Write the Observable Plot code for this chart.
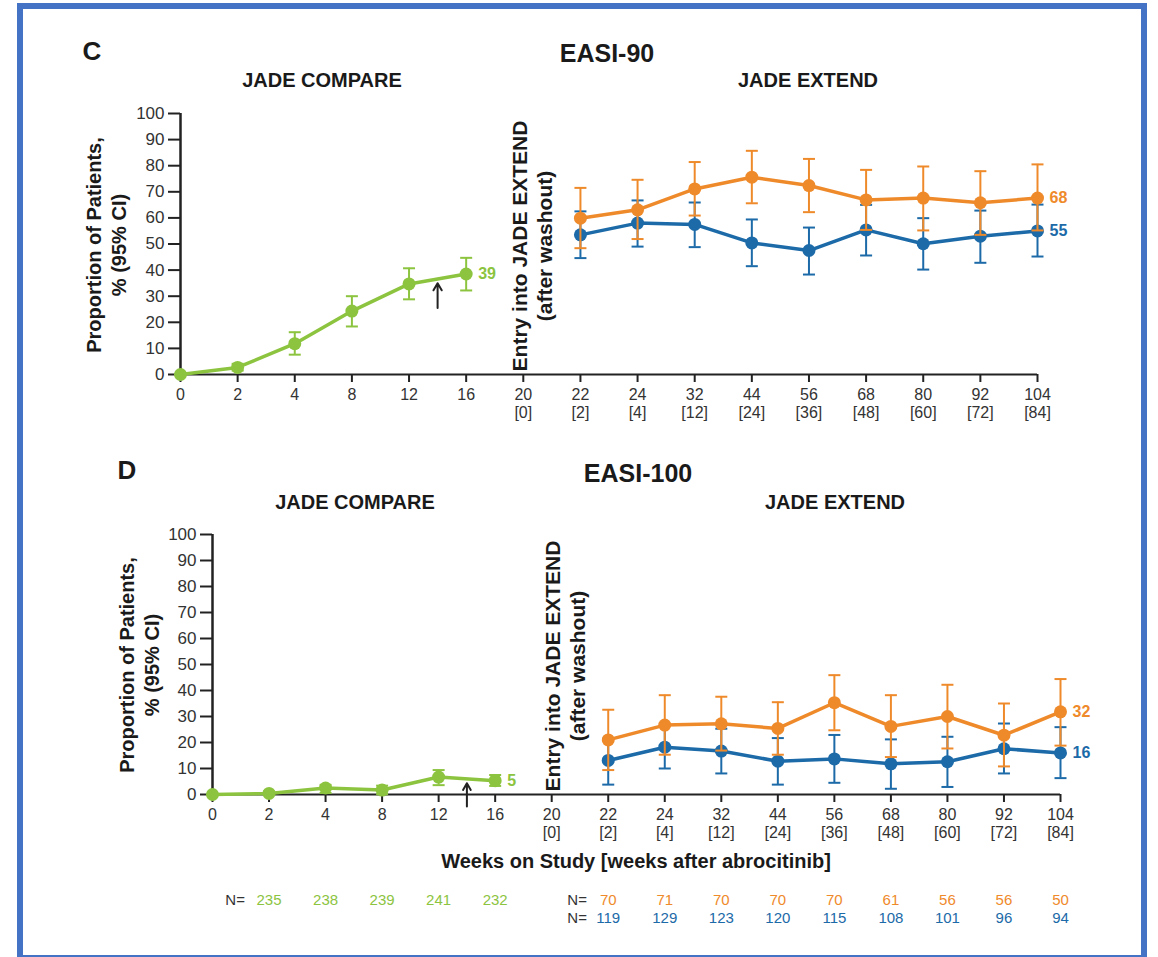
<!DOCTYPE html>
<html>
<head>
<meta charset="utf-8">
<script src="https://cdn.jsdelivr.net/npm/d3@7"></script>
<script src="https://cdn.jsdelivr.net/npm/@observablehq/plot@0.6"></script>
<style>
  html, body { margin: 0; padding: 0; overflow: hidden; background: #fff; }
  body { font-family: "Liberation Sans", Arial, sans-serif; }
  #page { position: relative; width: 1158px; height: 957px; overflow: hidden; background: #fff; }
  #frame { position: absolute; left: 17px; top: 3px; width: 1130px; height: 958px; border: 6px solid #4472C4; box-sizing: border-box; }
  .t { position: absolute; transform: translate(-50%, -50%); white-space: nowrap; color: #1a1a1a; font-weight: bold; }
  .rot { transform: translate(-50%, -50%) rotate(-90deg); text-align: center; line-height: 25px; }
  .plot { position: absolute; left: 0; }
</style>
</head>
<body>
<div id="page">
  <div id="frame"></div>
</div>
<script>
// ---------- data ----------
const weekLabels  = ["0","2","4","8","12","16","20","22","24","32","44","56","68","80","92","104"];
const afterLabels = [null,null,null,null,null,null,"0","2","4","12","24","36","48","60","72","84"];
const compareWeeks = ["0","2","4","8","12","16"];
const extendWeeks  = ["22","24","32","44","56","68","80","92","104"];
const nCompareWeeks = ["2","4","8","12","16"];
const entryWeek = 14;   // arrow: entry into JADE EXTEND

// EASI-90
const e90Compare   = [0, 2.7, 11.8, 24.3, 34.7, 38.5];
const e90CompareLo = [0, 1.5, 7.6, 18.4, 28.8, 32.2];
const e90CompareHi = [0, 4.1, 16.2, 30.0, 40.7, 44.7];
const e90Orange    = [59.9, 63.1, 71.1, 75.6, 72.4, 66.9, 67.6, 65.8, 67.6];
const e90OrangeLo  = [48.4, 51.9, 60.9, 65.6, 62.2, 55.4, 55.2, 53.5, 55.2];
const e90OrangeHi  = [71.5, 74.6, 81.4, 85.7, 82.6, 78.4, 79.7, 77.9, 80.5];
const e90Blue      = [53.5, 58.0, 57.5, 50.4, 47.5, 55.4, 50.1, 53.0, 55.0];
const e90BlueLo    = [44.6, 49.0, 48.8, 41.5, 38.3, 45.6, 40.2, 42.8, 45.2];
const e90BlueHi    = [62.5, 66.7, 65.9, 59.4, 56.3, 65.0, 59.9, 62.8, 65.1];
const e90EndLabels = ["39", "68", "55"];
const e90Arrow     = [25.5, 35];

// EASI-100
const e100Compare   = [0, 0.4, 2.5, 1.7, 6.7, 5.3];
const e100CompareLo = [0, 0, 0.6, 0.1, 3.6, 3.3];
const e100CompareHi = [0, 1.2, 3.7, 3.4, 9.4, 7.5];
const e100Orange    = [21.0, 26.7, 27.2, 25.4, 35.3, 26.2, 30.0, 22.8, 31.8];
const e100OrangeLo  = [9.4, 15.3, 16.9, 15.3, 24.7, 14.4, 17.7, 10.8, 18.8];
const e100OrangeHi  = [32.6, 38.2, 37.6, 35.5, 45.9, 38.2, 42.2, 35.0, 44.4];
const e100Blue      = [13.1, 18.2, 16.7, 12.8, 13.7, 11.8, 12.6, 17.6, 16.0];
const e100BlueLo    = [3.8, 10.0, 8.1, 3.8, 4.5, 2.2, 2.9, 8.1, 6.3];
const e100BlueHi    = [21.5, 26.5, 25.3, 21.7, 22.9, 21.2, 22.2, 27.3, 25.9];
const e100EndLabels = ["5", "32", "16"];
const e100Arrow     = [-4.6, 4.3];

// N at risk
const nCompare = [235, 238, 239, 241, 232];
const nOrange  = [70, 71, 70, 70, 70, 61, 56, 56, 50];
const nBlue    = [119, 129, 123, 120, 115, 108, 101, 96, 94];

// ---------- styling ----------
const GREEN = "#8CC43F", ORANGE = "#EF8A2B", BLUE = "#1C6AA8", INK = "#222";
const FONT = "'Liberation Sans', Arial, sans-serif";

const pos = w => weekLabels.indexOf(String(w));
function posOf(week) { // ordinal position of an in-between week
  const nums = weekLabels.map(Number);
  for (let i = 0; i < nums.length - 1; i++) {
    if (week >= nums[i] && week <= nums[i + 1]) return i + (week - nums[i]) / (nums[i + 1] - nums[i]);
  }
  return NaN;
}
const rows = (weeks, v, lo, hi) => weeks.map((w, k) => ({i: pos(w), v: v[k], lo: lo[k], hi: hi[k]}));
const capSymbol = { draw(ctx, size) { const r = Math.sqrt(size / Math.PI); ctx.moveTo(-r, 0); ctx.lineTo(r, 0); } };

function seriesMarks(data, color) {
  return [
    Plot.ruleX(data, {x: "i", y1: "lo", y2: "hi", stroke: color, strokeWidth: 2}),
    Plot.dot(data, {x: "i", y: "lo", symbol: capSymbol, r: 6, stroke: color, strokeWidth: 2, fill: "none"}),
    Plot.dot(data, {x: "i", y: "hi", symbol: capSymbol, r: 6, stroke: color, strokeWidth: 2, fill: "none"}),
    Plot.line(data, {x: "i", y: "v", stroke: color, strokeWidth: 3.5}),
    Plot.dot(data, {x: "i", y: "v", r: 6.5, fill: color, stroke: "none"})
  ];
}
function endLabel(data, text, color) {
  const last = data[data.length - 1];
  return Plot.text([last], {x: "i", y: "v", text: () => text, dx: 12, textAnchor: "start",
    fill: color, fontWeight: "bold", fontSize: 16});
}

function panel(cfg) {
  const g = rows(compareWeeks, cfg.c, cfg.cLo, cfg.cHi);
  const o = rows(extendWeeks, cfg.o, cfg.oLo, cfg.oHi);
  const b = rows(extendWeeks, cfg.b, cfg.bLo, cfg.bHi);
  const ax = posOf(entryWeek);
  const svg = Plot.plot({
    width: 1158, height: cfg.height,
    marginLeft: cfg.ml, marginRight: cfg.mr, marginTop: cfg.mt, marginBottom: cfg.mb,
    style: {fontFamily: FONT, fontSize: "16px", color: "#333", background: "transparent", overflow: "visible"},
    x: {type: "linear", domain: [0, weekLabels.length - 1], axis: null},
    y: {domain: [0, 100], axis: null},
    marks: [
      Plot.axisY({ticks: d3.range(0, 101, 10), tickSize: 12, tickPadding: 4, fontSize: 17,
        label: null, stroke: INK, strokeWidth: 2}),
      Plot.axisX({ticks: d3.range(weekLabels.length), tickSize: 8, tickPadding: 4, fontSize: 16,
        lineHeight: 1.15, label: null, stroke: INK, strokeWidth: 2,
        tickFormat: i => afterLabels[i] ? weekLabels[i] + "\n[" + afterLabels[i] + "]" : weekLabels[i]}),
      Plot.ruleY([0], {stroke: INK, strokeWidth: 2}),
      Plot.ruleX([0], {stroke: INK, strokeWidth: 2.5}),
      ...seriesMarks(g, GREEN),
      ...seriesMarks(b, BLUE),
      ...seriesMarks(o, ORANGE),
      endLabel(g, cfg.labels[0], GREEN),
      endLabel(o, cfg.labels[1], ORANGE),
      endLabel(b, cfg.labels[2], BLUE),
      Plot.arrow([cfg.arrow], {x1: () => ax, x2: () => ax, y1: d => d[0], y2: d => d[1],
        stroke: INK, strokeWidth: 2, headLength: 9})
    ]
  });
  svg.classList.add("plot");
  svg.style.top = cfg.top + "px";
  return svg;
}

const page = document.getElementById("page");

page.appendChild(panel({
  top: 100, height: 330, ml: 180, mr: 121, mt: 13, mb: 56,
  c: e90Compare, cLo: e90CompareLo, cHi: e90CompareHi,
  o: e90Orange, oLo: e90OrangeLo, oHi: e90OrangeHi,
  b: e90Blue, bLo: e90BlueLo, bHi: e90BlueHi,
  labels: e90EndLabels, arrow: e90Arrow
}));

page.appendChild(panel({
  top: 520, height: 320, ml: 212, mr: 98, mt: 14, mb: 46,
  c: e100Compare, cLo: e100CompareLo, cHi: e100CompareHi,
  o: e100Orange, oLo: e100OrangeLo, oHi: e100OrangeHi,
  b: e100Blue, bLo: e100BlueLo, bHi: e100BlueHi,
  labels: e100EndLabels, arrow: e100Arrow
}));

// N at risk table (shares the bottom panel's x positions)
const nRows = [
  {i: pos(nCompareWeeks[0]) - 0.6, row: "a", text: "N=", color: "#333"},
  ...nCompareWeeks.map((w, k) => ({i: pos(w), row: "a", text: String(nCompare[k]), color: GREEN})),
  {i: pos(extendWeeks[0]) - 0.55, row: "a", text: "N=", color: "#333"},
  ...extendWeeks.map((w, k) => ({i: pos(w), row: "a", text: String(nOrange[k]), color: ORANGE})),
  {i: pos(extendWeeks[0]) - 0.55, row: "b", text: "N=", color: "#333"},
  ...extendWeeks.map((w, k) => ({i: pos(w), row: "b", text: String(nBlue[k]), color: BLUE}))
];
const nPlot = Plot.plot({
  width: 1158, height: 45, marginLeft: 212, marginRight: 98, marginTop: 15, marginBottom: 12,
  style: {fontFamily: FONT, fontSize: "15px", background: "transparent", overflow: "visible"},
  x: {type: "linear", domain: [0, weekLabels.length - 1], axis: null},
  y: {type: "point", domain: ["a", "b"], padding: 0, axis: null},
  marks: [Plot.text(nRows, {x: "i", y: "row", text: "text", fill: "color", fontSize: 15})]
});
nPlot.classList.add("plot");
nPlot.style.top = "885px";
page.appendChild(nPlot);

// ---------- titles & labels ----------
function label(html, x, y, size, extra = "") {
  const d = document.createElement("div");
  d.className = "t " + extra;
  d.style.left = x + "px"; d.style.top = y + "px"; d.style.fontSize = size + "px";
  d.innerHTML = html;
  page.appendChild(d);
}
label("C", 92, 51, 26);
label("EASI-90", 607, 53, 25);
label("JADE COMPARE", 322, 80, 20);
label("JADE EXTEND", 808, 80, 20);
label("Proportion of Patients,<br>% (95% CI)", 107, 245, 20, "rot");
label("Entry into JADE EXTEND<br>(after washout)", 532, 246, 21, "rot");

label("D", 127, 470, 26);
label("EASI-100", 638, 473, 25);
label("JADE COMPARE", 355, 502, 20);
label("JADE EXTEND", 835, 502, 20);
label("Proportion of Patients,<br>% (95% CI)", 140, 665, 20, "rot");
label("Entry into JADE EXTEND<br>(after washout)", 565, 666, 21, "rot");

label("Weeks on Study [weeks after abrocitinib]", 636, 861, 20);
</script>
</body>
</html>
